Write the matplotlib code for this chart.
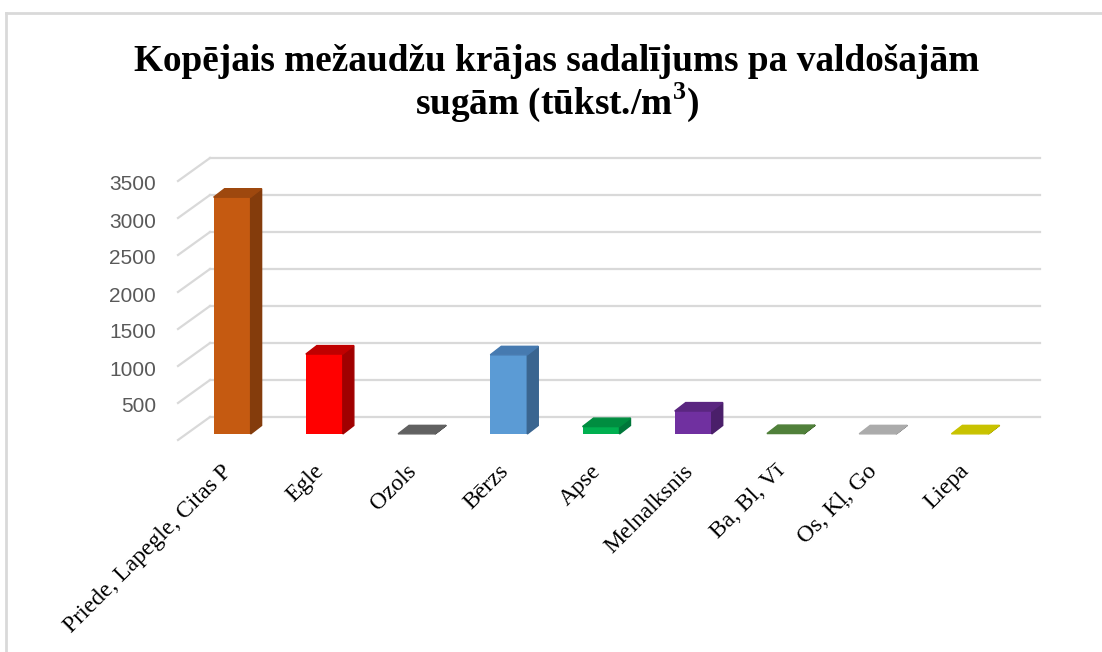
import matplotlib
matplotlib.use("Agg")
import matplotlib.pyplot as plt
from matplotlib.patches import Polygon
from matplotlib.lines import Line2D

# data
categories = ["Priede, Lapegle, Citas P", "Egle", "Ozols", "Bērzs", "Apse",
              "Melnalksnis", "Ba, Bl, Vī", "Os, Kļ, Go", "Liepa"]
values = [3200, 1080, 2, 1070, 100, 310, 6, 2, 2]
yticks = [500, 1000, 1500, 2000, 2500, 3000, 3500]
title = "Kopējais mežaudžu krājas sadalījums pa valdošajām\nsugām (tūkst./m$^\\mathregular{3}$)"

front_cols = ["#C55A11", "#FF0000", "#6A6A6A", "#5B9BD5", "#00B050",
              "#7030A0", "#548235", "#A5A5A5", "#C5C000"]
top_cols = ["#9E480E", "#C00000", "#616161", "#467AB0", "#008D40",
            "#5A2680", "#50803A", "#ABABAB", "#C8C200"]
side_cols = ["#843C0C", "#A00000", "#4A4A4A", "#3A6590", "#00773A",
             "#4A1F6A", "#385A22", "#7A7A7A", "#959000"]

W, H = 1102, 652
fig = plt.figure(figsize=(W / 100, H / 100), dpi=100)
ax = fig.add_axes([186 / W, (H - 434) / H, 830 / W, 259 / H])
ax.set_xlim(-0.5, 8.5)
ax.set_ylim(0, 3500)
ax.axis("off")

# depth offsets in data units (px / px-per-unit)
ux, uy = 830 / 9, 259 / 3500
back_dx, back_dy = 24 / ux, 17 / uy
front_dx, front_dy = -8 / ux, -6 / uy
bar_dx, bar_dy = 11 / ux, 8.5 / uy
bw = 37 / ux

grid_c = "#D9D9D9"
for v in [0] + yticks:
    ax.plot([-0.5 + back_dx, 8.5 + back_dx], [v + back_dy, v + back_dy],
            color=grid_c, lw=1.6, clip_on=False, zorder=1)
    ax.plot([-0.5 + front_dx, -0.5 + back_dx], [v + front_dy, v + back_dy],
            color=grid_c, lw=1.6, clip_on=False, zorder=1)
for v in yticks:
    ax.text(-0.5 + front_dx - 22 / ux, v + front_dy - 4 / uy, str(v), ha="right",
            va="center", fontsize=15, color="#595959", family="Liberation Sans")

# 3D-looking bars
for i, (v, fc, tc, sc) in enumerate(zip(values, front_cols, top_cols, side_cols)):
    x0, x1 = i - bw / 2, i + bw / 2
    ax.bar(i, v, width=bw, color=fc, zorder=3, clip_on=False)
    top = [(x0, v), (x1, v), (x1 + bar_dx, v + bar_dy), (x0 + bar_dx, v + bar_dy)]
    side = [(x1, 0), (x1 + bar_dx, bar_dy), (x1 + bar_dx, v + bar_dy), (x1, v)]
    ax.add_patch(Polygon(side, closed=True, color=sc, zorder=3, clip_on=False))
    ax.add_patch(Polygon(top, closed=True, color=tc, zorder=4, clip_on=False))
    ax.text(i - 11 / ux, -360, categories[i], rotation=45, ha="right", va="top",
            rotation_mode="anchor", fontsize=17, family="Liberation Serif")

fig.text(0.505, 0.933, title, ha="center", va="top", fontsize=26.8,
         fontweight="bold", family="Liberation Serif", linespacing=1.05)

# chart border (top and left edges visible)
fig.add_artist(Line2D([5.5 / W, 1], [1 - 12.5 / H, 1 - 12.5 / H], color=grid_c, lw=2))
fig.add_artist(Line2D([5.5 / W, 5.5 / W], [0, 1 - 12.5 / H], color=grid_c, lw=2))

fig.savefig("out.png", dpi=100)
